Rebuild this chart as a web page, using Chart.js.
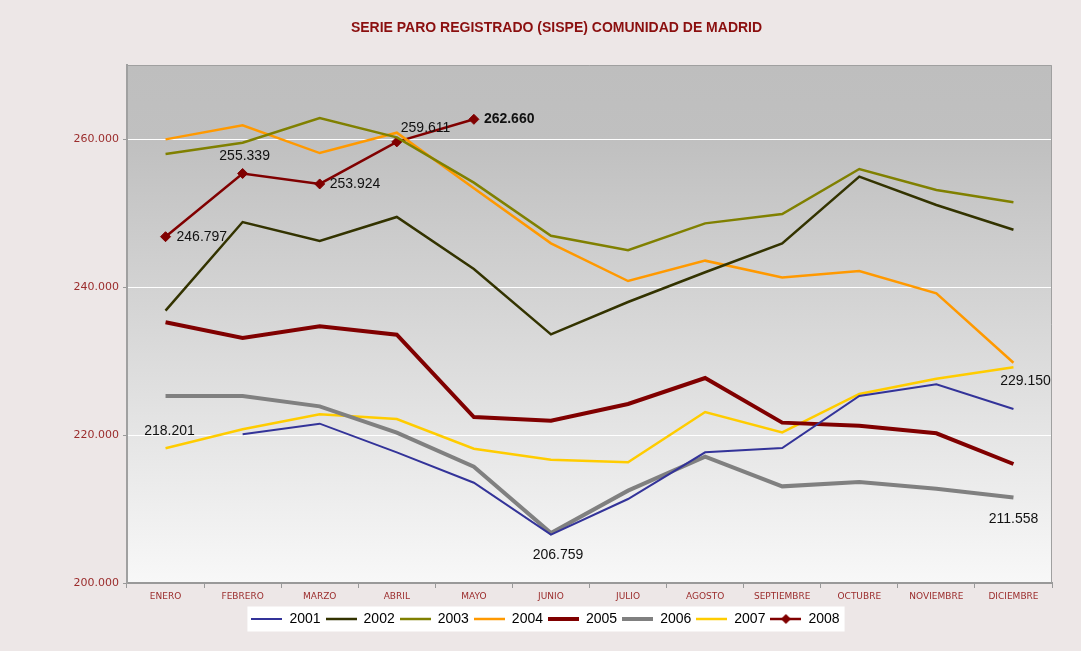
<!DOCTYPE html>
<html>
<head>
<meta charset="utf-8">
<script src="https://cdn.jsdelivr.net/npm/chart.js@4/dist/chart.umd.min.js"></script>
<style>
  html, body { margin: 0; padding: 0; background: #EDE7E7; }
  #paro { display: block; }
</style>
</head>
<body>
<canvas id="paro" width="1081" height="651"></canvas>
<script>
// Datos (paro registrado, Comunidad de Madrid)
const title = "SERIE PARO REGISTRADO (SISPE) COMUNIDAD DE MADRID";
const months = ["ENERO", "FEBRERO", "MARZO", "ABRIL", "MAYO", "JUNIO", "JULIO", "AGOSTO", "SEPTIEMBRE", "OCTUBRE", "NOVIEMBRE", "DICIEMBRE"];
const years = ["2001", "2002", "2003", "2004", "2005", "2006", "2007", "2008"];
const s2001 = [null, 220090, 221530, 217660, 213550, 206530, 211350, 217660, 218240, 225270, 226850, 223510];
const s2002 = [236800, 248780, 246220, 249460, 242430, 233600, 237970, 241990, 245900, 254910, 251080, 247740];
const s2003 = [257970, 259500, 262840, 260230, 254100, 246930, 244960, 248600, 249860, 255950, 253110, 251450];
const s2004 = [259950, 261850, 258100, 260850, 253330, 245900, 240810, 243560, 241300, 242160, 239150, 229770];
const s2005 = [235230, 233110, 234680, 233560, 222430, 221930, 224190, 227700, 221670, 221260, 220230, 216080];
const s2006 = [225270, 225270, 223870, 220320, 215720, 206759, 212480, 217070, 213060, 213650, 212750, 211558];
const s2007 = [218201, 220770, 222800, 222160, 218150, 216660, 216310, 223110, 220360, 225540, 227610, 229150];
const s2008 = [246797, 255339, 253924, 259611, 262660];
const yTicks = [200000, 220000, 240000, 260000];

const colors = ["#333399", "#333300", "#808000", "#FF9900", "#800000", "#808080", "#FFCC00", "#800000"];
const widths = [2, 2.5, 2.5, 2.5, 4, 4, 2.5, 2.5];
const series = [s2001, s2002, s2003, s2004, s2005, s2006, s2007, s2008];

// etiquetas de valor: [serie, mes, alineacion, dx, dy, negrita]
const valueLabels = [
  [7, 0, "left", 11, 0, false],
  [7, 1, "center", 2, -17, false],
  [7, 2, "left", 10, 0, false],
  [7, 3, "left", 4, -14, false],
  [7, 4, "left", 10, 0, true],
  [6, 0, "center", 4, -17, false],
  [5, 5, "center", 7, 22, false],
  [6, 11, "center", 12, 14, false],
  [5, 11, "center", 0, 22, false]
];

function fmt(v) {
  return String(Math.round(v)).replace(/\B(?=(\d{3})+(?!\d))/g, ".");
}

// muestra de linea para la leyenda
function swatch(i) {
  const c = document.createElement("canvas");
  c.width = 31; c.height = 12;
  const g = c.getContext("2d");
  g.strokeStyle = colors[i];
  g.lineWidth = widths[i];
  g.beginPath(); g.moveTo(0, 6); g.lineTo(31, 6); g.stroke();
  if (i === 7) {
    g.fillStyle = colors[i];
    g.beginPath(); g.moveTo(15.5, 1); g.lineTo(20.5, 6); g.lineTo(15.5, 11); g.lineTo(10.5, 6); g.closePath(); g.fill();
  }
  return c;
}

const plotBg = {
  id: "plotBg",
  beforeDraw(chart) {
    const { ctx, chartArea: a } = chart;
    ctx.save();
    const g = ctx.createLinearGradient(0, a.top, 0, a.bottom);
    g.addColorStop(0, "#BEBEBE");
    g.addColorStop(0.15, "#C0C0C0");
    g.addColorStop(1, "#F8F8F8");
    ctx.fillStyle = g;
    ctx.fillRect(a.left, a.top, a.width, a.height);
    const hb = chart.legend.legendHitBoxes;
    if (hb && hb.length) {
      const l = Math.min(...hb.map(h => h.left)) - 4;
      const r = Math.max(...hb.map(h => h.left + h.width)) + 5;
      const cy = hb[0].top + hb[0].height / 2;
      ctx.fillStyle = "#FFFFFF";
      ctx.fillRect(l, cy - 12.5, r - l, 25);
    }
    // titulo
    ctx.fillStyle = "#8B0F0F";
    ctx.font = "bold 14px 'Liberation Sans', Arial, sans-serif";
    ctx.textAlign = "center";
    ctx.textBaseline = "middle";
    ctx.fillText(title, 556.5, 28.5);
    ctx.restore();
  },
  beforeDatasetsDraw(chart) {
    const { ctx, chartArea: a } = chart;
    ctx.save();
    ctx.strokeStyle = "#A0A0A0";
    ctx.lineWidth = 1;
    ctx.beginPath();
    ctx.moveTo(a.left, a.top + 0.5); ctx.lineTo(a.right - 0.5, a.top + 0.5); ctx.lineTo(a.right - 0.5, a.bottom);
    ctx.stroke();
    ctx.restore();
  }
};

const dataLabels = {
  id: "dataLabels",
  afterDatasetsDraw(chart) {
    const ctx = chart.ctx;
    ctx.save();
    ctx.fillStyle = "#111";
    ctx.textBaseline = "middle";
    valueLabels.forEach(([ds, idx, align, dx, dy, bold]) => {
      const pt = chart.getDatasetMeta(ds).data[idx];
      ctx.font = (bold ? "bold " : "") + "14px 'Liberation Sans', Arial, sans-serif";
      ctx.textAlign = align;
      ctx.fillText(fmt(series[ds][idx]), pt.x + dx, pt.y + dy);
    });
    ctx.restore();
  }
};

const datasets = series.map((vals, i) => ({
  label: years[i],
  data: vals,
  borderColor: colors[i],
  backgroundColor: colors[i],
  borderWidth: widths[i],
  tension: 0,
  fill: false,
  pointRadius: i === 7 ? 5 : 0,
  pointHoverRadius: i === 7 ? 5 : 0,
  pointStyle: "rectRot",
  pointBackgroundColor: colors[i],
  pointBorderColor: colors[i],
  pointBorderWidth: 1
}));

new Chart(document.getElementById("paro"), {
  type: "line",
  data: { labels: months, datasets: datasets },
  plugins: [plotBg, dataLabels],
  options: {
    responsive: false,
    animation: false,
    layout: { padding: { top: 65, right: 29, bottom: 15, left: 39 } },
    plugins: {
      tooltip: { enabled: false },
      title: { display: false },
      legend: {
        position: "bottom",
        labels: {
          usePointStyle: true,
          pointStyleWidth: 31,
          boxHeight: 12,
          padding: 5,
          color: "#000",
          font: { size: 14, family: "'Liberation Sans', Arial, sans-serif" },
          generateLabels(chart) {
            return chart.data.datasets.map((d, i) => ({
              text: d.label,
              pointStyle: swatch(i),
              fillStyle: colors[i],
              strokeStyle: colors[i],
              lineWidth: 1,
              hidden: false,
              datasetIndex: i
            }));
          }
        }
      }
    },
    scales: {
      x: {
        offset: true,
        grid: { offset: true, drawOnChartArea: false, drawTicks: true, tickLength: 5, color: "#999", tickColor: "#999" },
        border: { color: "#999", width: 2 },
        ticks: { color: "#9B2C2C", font: { size: 9, family: "'DejaVu Sans', sans-serif" }, maxRotation: 0, autoSkip: false, padding: 3 },
        afterFit(s) { s.height = 24; }
      },
      y: {
        min: 200000,
        max: 270000,
        afterBuildTicks(s) { s.ticks = yTicks.map(v => ({ value: v })); },
        grid: { color: "#FFFFFF", tickColor: "#999", tickLength: 4, lineWidth: 1 },
        border: { color: "#A0A0A0", width: 2 },
        ticks: { color: "#9B2C2C", font: { size: 11, family: "'DejaVu Sans', sans-serif" }, padding: 4, callback: v => fmt(v) },
        afterFit(s) { s.width = 88; }
      }
    }
  }
});
</script>
</body>
</html>
